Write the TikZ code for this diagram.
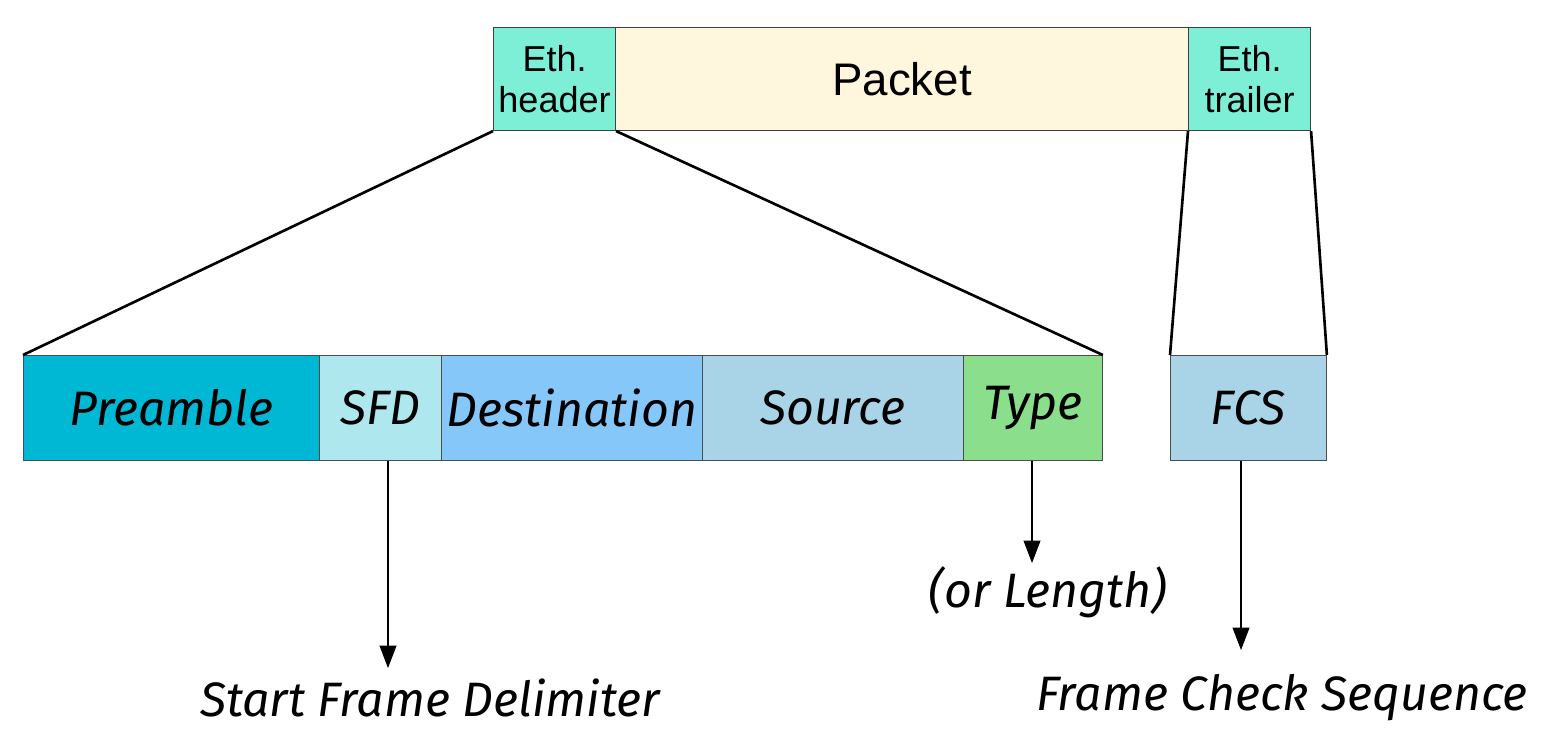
\documentclass[tikz,border=0pt]{standalone}
\usepackage{fontspec}
\setmainfont{Liberation Sans}
\newfontfamily\handfont{Fira Sans}
\usetikzlibrary{arrows.meta}
\definecolor{ethc}{HTML}{7DEFD6}
\definecolor{pktc}{HTML}{FFF7DD}
\definecolor{prec}{HTML}{00B8D3}
\definecolor{sfdc}{HTML}{AEE7EE}
\definecolor{dstc}{HTML}{85C7F9}
\definecolor{srcc}{HTML}{A9D3E7}
\definecolor{typc}{HTML}{8ADE8C}
\definecolor{fcsc}{HTML}{A9D3E7}
\tikzset{
  topbox/.style={draw=black!75, line width=0.6pt, inner sep=0pt, font=\fontsize{20.5}{23}\selectfont, align=center},
  field/.style={draw=black!70, line width=0.5pt, inner sep=0pt, font=\handfont\itshape\fontsize{27.5}{30}\selectfont},
  bigline/.style={line width=1.5pt, black},
  pointer/.style={line width=0.6pt, black, -{Triangle[length=0.45cm,width=0.34cm]}},
  lbl/.style={font=\handfont\itshape\fontsize{27.5}{30}\selectfont, inner sep=0pt}
}
\begin{document}
\begin{tikzpicture}[x=0.02cm,y=-0.02cm]
\useasboundingbox (0,0) rectangle (1550,731);
% top row
\node[topbox, fill=ethc, minimum width=122*0.02cm, minimum height=103*0.02cm, anchor=north west] (eh) at (493,27) {Eth.\\header};
\node[topbox, fill=pktc, minimum width=573*0.02cm, minimum height=103*0.02cm, anchor=north west, font=\fontsize{26}{28}\selectfont] (pk) at (615,27) {Packet};
\node[topbox, fill=ethc, minimum width=122*0.02cm, minimum height=103*0.02cm, anchor=north west] (et) at (1188,27) {Eth.\\trailer};
% bottom row
\node[field, fill=prec, minimum width=296*0.02cm, minimum height=105*0.02cm, anchor=north west] (pre) at (23,355) {Preamble};
\node[field, fill=sfdc, minimum width=122*0.02cm, minimum height=105*0.02cm, anchor=north west] (sfd) at (319,355) {SFD};
\node[field, fill=dstc, minimum width=261*0.02cm, minimum height=105*0.02cm, anchor=north west] (dst) at (441,355) {Destination};
\node[field, fill=srcc, minimum width=261*0.02cm, minimum height=105*0.02cm, anchor=north west] (src) at (702,355) {Source};
\node[field, fill=typc, minimum width=139*0.02cm, minimum height=105*0.02cm, anchor=north west] (typ) at (963,355) {Type};
\node[field, fill=fcsc, minimum width=156*0.02cm, minimum height=105*0.02cm, anchor=north west] (fcs) at (1170,355) {FCS};
% expansion lines
\draw[bigline] (eh.south west) -- (pre.north west);
\draw[bigline] (eh.south east) -- (typ.north east);
\draw[bigline] (et.south west) -- (fcs.north west);
\draw[bigline] (et.south east) -- (fcs.north east);
% labels
\node[lbl] (sfdl) at (430,698) {Start Frame Delimiter};
\node[lbl] (typl) at (1048,592) {(or Length)};
\node[lbl] (fcsl) at (1282,698) {Frame Check Sequence};
\coordinate (sfdend) at (388,668);
\coordinate (typend) at (1032,563);
\coordinate (fcsend) at (1241,650);
\draw[pointer] (sfd.south -| sfdend) -- (sfdend);
\draw[pointer] (typ.south -| typend) -- (typend);
\draw[pointer] (fcs.south -| fcsend) -- (fcsend);
\end{tikzpicture}
\end{document}
